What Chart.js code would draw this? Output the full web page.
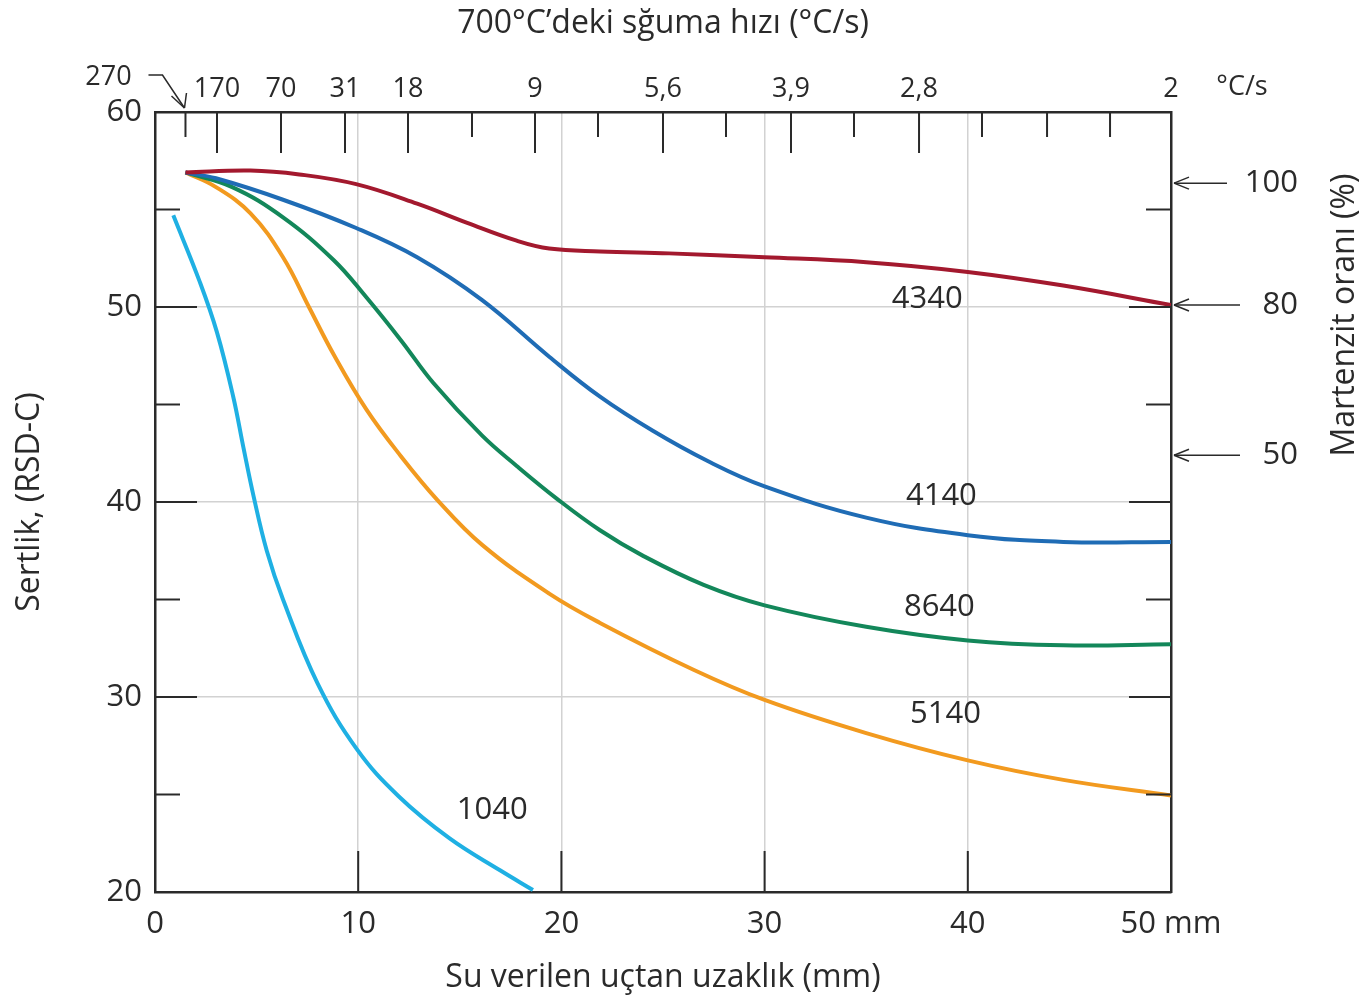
<!DOCTYPE html>
<html>
<head>
<meta charset="utf-8">
<script src="https://cdn.jsdelivr.net/npm/chart.js@4.4.1/dist/chart.umd.min.js"></script>
<style>
  html, body { margin: 0; padding: 0; background: #fff; }
  canvas { display: block; }
</style>
</head>
<body>
<canvas id="jominy" width="1360" height="1001"></canvas>
<script>
// Jominy hardenability curves: distance from quenched end (mm) vs hardness (HRC)
const d4340 = [1.5, 4.7, 7.1, 9.9, 12.9, 15.4, 17.8, 19.4, 21.9, 25.3, 30, 35, 40, 44.7, 50];
const h4340 = [56.9, 57.0, 56.8, 56.3, 55.3, 54.3, 53.4, 53.0, 52.85, 52.75, 52.55, 52.3, 51.8, 51.1, 50.1];

const d4140 = [1.5, 3.0, 6.3, 9.9, 12.9, 16.1, 19.4, 21.9, 24.5, 27.2, 30, 35, 40, 44.7, 50];
const h4140 = [56.9, 56.6, 55.5, 54.05, 52.55, 50.35, 47.45, 45.4, 43.65, 42.1, 40.8, 39.2, 38.3, 37.95, 37.95];

const d8640 = [1.5, 3.8, 6.3, 8.8, 10.4, 12.1, 13.7, 16.1, 17.8, 19.8, 21.9, 24, 27, 30, 35, 40, 44.7, 50];
const h8640 = [56.9, 56.15, 54.6, 52.4, 50.5, 48.3, 46.1, 43.4, 41.85, 40.15, 38.55, 37.25, 35.75, 34.7, 33.6, 32.9, 32.65, 32.7];

const d5140 = [1.5, 3.0, 4.7, 6.3, 7.6, 8.8, 10.4, 12.1, 13.9, 16.1, 19.4, 21.9, 26.5, 30, 35, 40, 44.7, 50];
const h5140 = [56.9, 56.15, 54.8, 52.55, 49.95, 47.55, 44.75, 42.35, 40.1, 37.8, 35.3, 33.8, 31.4, 29.85, 28.15, 26.75, 25.75, 24.95];

const d1040 = [0.9, 2.2, 3.05, 3.85, 4.35, 4.85, 5.5, 6.3, 8.0, 9.95, 12.0, 14.5, 17.0, 18.6];
const h1040 = [54.7, 51.3, 48.7, 45.4, 42.8, 40.3, 37.5, 35.0, 30.7, 27.3, 24.9, 22.75, 21.1, 20.1];

// top axis: cooling rate at 700 °C, placed at Jominy distances (mm)
const topTickPos = [1.5, 3.05, 6.2, 9.35, 12.45, 15.6, 18.7, 21.8, 25.0, 28.1, 31.3, 34.4, 37.6, 40.7, 43.9, 47.0, 50];
const topTickLabels = ['', '170', '70', '31', '18', '', '9', '', '5,6', '', '3,9', '', '2,8', '', '', '', '2'];
const topTickLong = [false, true, true, true, true, false, true, false, true, false, true, false, true, false, false, false, true];

// right axis: martensite fraction (%) and the hardness it corresponds to
const martPct = ['100', '80', '50'];
const martHardness = [56.35, 50.1, 42.4];

// curve names and where their labels sit (data units)
const curveNames = ['4340', '4140', '8640', '5140', '1040'];
const curveLabelX = [38.0, 38.7, 38.6, 38.9, 16.6];
const curveLabelY = [50.4, 40.3, 34.6, 29.1, 24.2];

const INK = '#2a2a2a';
const FONT = "'Open Sans', 'Noto Sans', sans-serif";

function pts(xs, ys) {
  return xs.map((v, i) => ({ x: v, y: ys[i] }));
}

function line(ctx, x1, y1, x2, y2) {
  ctx.beginPath();
  ctx.moveTo(x1, y1);
  ctx.lineTo(x2, y2);
  ctx.stroke();
}

const decor = {
  id: 'decor',
  afterDatasetsDraw(chart) {
    const { ctx, scales: { x, y } } = chart;
    ctx.save();
    ctx.fillStyle = INK;
    ctx.font = '31px ' + FONT;
    ctx.textAlign = 'center';
    ctx.textBaseline = 'middle';
    curveNames.forEach((name, i) => {
      ctx.fillText(name, x.getPixelForValue(curveLabelX[i]), y.getPixelForValue(curveLabelY[i]));
    });
    ctx.restore();
  },
  afterDraw(chart) {
    const { ctx, chartArea: a, scales: { x, y, x2, y2 } } = chart;
    ctx.save();
    ctx.strokeStyle = INK;
    ctx.lineWidth = 2;

    // inward ticks on left and right frame
    for (let v = 25; v <= 55; v += 5) {
      const py = y.getPixelForValue(v);
      const len = v % 10 === 0 ? 42 : 25;
      line(ctx, a.left, py, a.left + len, py);
      line(ctx, a.right, py, a.right - len, py);
    }
    // bottom inward ticks
    [10, 20, 30, 40].forEach(v => {
      const px = x.getPixelForValue(v);
      line(ctx, px, a.bottom, px, a.bottom - 41);
    });
    // top inward ticks
    topTickPos.forEach((v, i) => {
      if (v >= 50) return;
      const px = x2.getPixelForValue(v);
      line(ctx, px, a.top, px, a.top + (topTickLong[i] ? 41 : 25));
    });

    // martensite arrows and their labels
    ctx.fillStyle = INK;
    ctx.textBaseline = 'middle';
    martHardness.forEach((h, i) => {
      const py = y2.getPixelForValue(h);
      const x0 = a.right + 3;
      ctx.lineWidth = 1.5;
      line(ctx, x0, py, a.right + (i === 0 ? 56 : 69), py);
      line(ctx, x0, py, x0 + 15, py - 6);
      line(ctx, x0, py, x0 + 15, py + 6);
      ctx.font = '31px ' + FONT;
      ctx.textAlign = 'right';
      ctx.fillText(martPct[i], a.right + 127, py);
    });

    // 270 label with bent arrow onto its tick
    ctx.lineWidth = 1.5;
    const t = x2.getPixelForValue(topTickPos[0]);
    ctx.beginPath();
    ctx.moveTo(t - 37, 75);
    ctx.lineTo(t - 23, 75);
    ctx.lineTo(t - 1, a.top - 4);
    ctx.stroke();
    line(ctx, t - 1, a.top - 4, t - 14, a.top - 16);
    line(ctx, t - 1, a.top - 4, t + 1, a.top - 19);

    ctx.textAlign = 'center';
    ctx.font = '27px ' + FONT;
    ctx.fillText('270', t - 77, 77);
    ctx.fillText('°C/s', a.right + 71, 87);

    // right axis title, reading bottom-to-top
    ctx.font = '32px ' + FONT;
    ctx.translate(1345, 315);
    ctx.rotate(-Math.PI / 2);
    ctx.fillText('Martenzit oranı (%)', 0, 0);
    ctx.restore();
  }
};

const ctx = document.getElementById('jominy').getContext('2d');

const series = [
  { label: '4340', data: pts(d4340, h4340), color: '#a3192e' },
  { label: '4140', data: pts(d4140, h4140), color: '#1f6cb5' },
  { label: '8640', data: pts(d8640, h8640), color: '#13875a' },
  { label: '5140', data: pts(d5140, h5140), color: '#f29a1f' },
  { label: '1040', data: pts(d1040, h1040), color: '#1fb0e3' },
];

const jominyChart = new Chart(ctx, {
  type: 'line',
  data: {
    datasets: series.map(s => ({
      label: s.label,
      data: s.data,
      borderColor: s.color,
      borderWidth: 4,
      pointRadius: 0,
      fill: false,
      tension: 0.4,
      xAxisID: 'x',
      yAxisID: 'y',
    })),
  },
  options: {
    responsive: false,
    animation: false,
    devicePixelRatio: 1,
    layout: { padding: 0 },
    plugins: {
      legend: { display: false },
      tooltip: { enabled: false },
    },
    scales: {
      x: {
        type: 'linear',
        position: 'bottom',
        min: 0,
        max: 50,
        afterFit: s => { s.height = 109; },
        ticks: {
          stepSize: 10,
          padding: 14,
          color: INK,
          font: { family: FONT, size: 31 },
          maxRotation: 0,
          callback: v => (v === 50 ? '50 mm' : v),
        },
        grid: { color: '#d2d2d2', lineWidth: 1.5, drawTicks: false },
        border: { color: INK, width: 2.5 },
        title: {
          display: true,
          text: 'Su verilen uçtan uzaklık (mm)',
          color: INK,
          font: { family: FONT, size: 32 },
          padding: { top: 0, bottom: 4 },
        },
      },
      x2: {
        type: 'linear',
        position: 'top',
        min: 0,
        max: 50,
        afterFit: s => { s.height = 112; },
        afterBuildTicks: s => { s.ticks = topTickPos.map(v => ({ value: v })); },
        ticks: {
          autoSkip: false,
          maxRotation: 0,
          padding: 6,
          color: INK,
          font: { family: FONT, size: 27 },
          callback: (v, i) => topTickLabels[i],
        },
        grid: { display: false, drawTicks: false },
        border: { color: INK, width: 2.5 },
        title: {
          display: true,
          text: '700°C’deki sğuma hızı (°C/s)',
          color: INK,
          font: { family: FONT, size: 32 },
          padding: { top: 5, bottom: 0 },
        },
      },
      y: {
        type: 'linear',
        position: 'left',
        min: 20,
        max: 60,
        afterFit: s => { s.width = 155; },
        ticks: {
          stepSize: 10,
          padding: 13,
          color: INK,
          font: { family: FONT, size: 31 },
        },
        grid: { color: '#d2d2d2', lineWidth: 1.5, drawTicks: false },
        border: { color: INK, width: 2.5 },
        title: {
          display: true,
          text: 'Sertlik, (RSD-C)',
          color: INK,
          font: { family: FONT, size: 32 },
          padding: { top: 11, bottom: 0 },
        },
      },
      y2: {
        type: 'linear',
        position: 'right',
        min: 20,
        max: 60,
        afterFit: s => { s.width = 189; },
        ticks: { display: false },
        grid: { display: false, drawTicks: false },
        border: { color: INK, width: 2.5 },
      },
    },
  },
  plugins: [decor],
});
</script>
</body>
</html>
